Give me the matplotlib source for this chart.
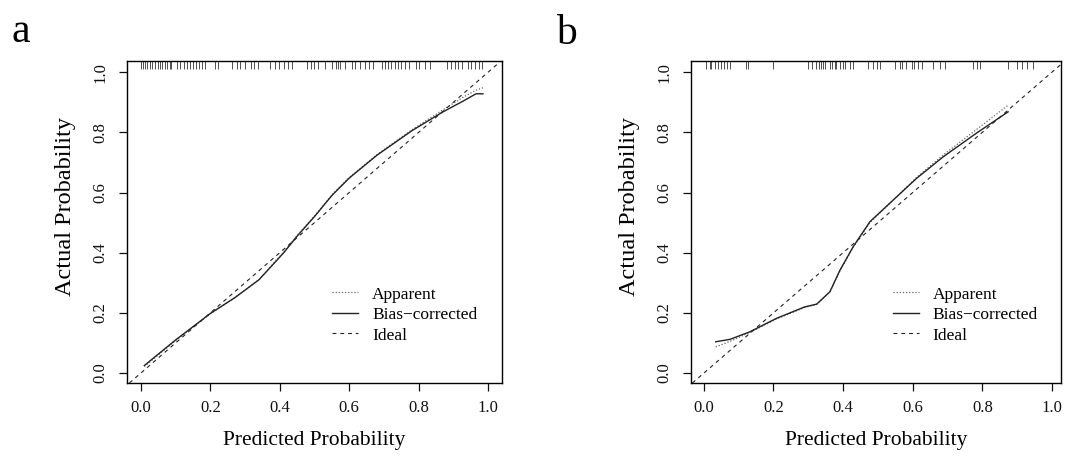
import numpy as np
import matplotlib
matplotlib.use('Agg')
import matplotlib.pyplot as plt

plt.rcParams['font.family'] = ['Liberation Serif', 'DejaVu Serif']

# panel a
a_x = [0.01, 0.10, 0.20, 0.27, 0.34, 0.41, 0.45, 0.50, 0.55, 0.60, 0.68, 0.78, 0.87, 0.93, 0.965, 0.985]
a_bias = [0.025, 0.11, 0.198, 0.25, 0.31, 0.398, 0.455, 0.52, 0.59, 0.648, 0.724, 0.805, 0.868, 0.905, 0.928, 0.928]
a_app = [0.022, 0.108, 0.197, 0.25, 0.31, 0.40, 0.457, 0.522, 0.592, 0.65, 0.726, 0.808, 0.875, 0.918, 0.94, 0.948]
a_rug = [0.0, 0.007, 0.013, 0.019, 0.026, 0.031, 0.040, 0.050, 0.056, 0.062, 0.069, 0.076, 0.084, 0.088,
         0.103, 0.112, 0.124, 0.132, 0.141, 0.151, 0.160, 0.167, 0.175, 0.184, 0.213, 0.223, 0.261,
         0.276, 0.285, 0.300, 0.317, 0.327, 0.338, 0.372, 0.386, 0.398, 0.413, 0.425, 0.434, 0.477,
         0.490, 0.498, 0.510, 0.531, 0.550, 0.562, 0.568, 0.574, 0.589, 0.608, 0.618, 0.632, 0.646,
         0.656, 0.668, 0.695, 0.704, 0.712, 0.721, 0.731, 0.741, 0.750, 0.762, 0.771, 0.791, 0.800,
         0.819, 0.834, 0.882, 0.894, 0.904, 0.914, 0.925, 0.942, 0.952, 0.963, 0.973, 0.981]

# panel b
b_x = [0.034, 0.075, 0.132, 0.209, 0.29, 0.324, 0.362, 0.391, 0.429, 0.477, 0.544, 0.611, 0.688, 0.784, 0.874]
b_bias = [0.104, 0.112, 0.137, 0.182, 0.220, 0.229, 0.270, 0.342, 0.420, 0.503, 0.575, 0.647, 0.719, 0.798, 0.868]
b_app = [0.087, 0.105, 0.135, 0.180, 0.218, 0.228, 0.270, 0.340, 0.418, 0.500, 0.575, 0.650, 0.725, 0.810, 0.890]
b_rug = [0.007, 0.017, 0.021, 0.031, 0.042, 0.050, 0.059, 0.067, 0.074, 0.122, 0.127, 0.198, 0.299,
         0.310, 0.323, 0.330, 0.337, 0.343, 0.349, 0.361, 0.367, 0.376, 0.381, 0.390, 0.400, 0.404,
         0.420, 0.429, 0.471, 0.486, 0.496, 0.506, 0.549, 0.563, 0.568, 0.582, 0.597, 0.604, 0.614,
         0.626, 0.659, 0.678, 0.693, 0.774, 0.784, 0.793, 0.874, 0.899, 0.913, 0.927, 0.946]

ticks = [0.0, 0.2, 0.4, 0.6, 0.8, 1.0]
tick_labels = ['0.0', '0.2', '0.4', '0.6', '0.8', '1.0']
legend_labels = ['Apparent', 'Bias\u2212corrected', 'Ideal']

fig = plt.figure(figsize=(10.67, 4.59), dpi=100)


def panel(rect, x, app, bias, rug, xlim, legend_x):
    ax = fig.add_axes(rect)
    l1, = ax.plot(x, app, color='#666666', lw=0.9, linestyle=(0, (1, 1.5)))
    l2, = ax.plot(x, bias, color='#222222', lw=1.0)
    l3 = ax.axline((0, 0), (1, 1), color='#222222', lw=0.8, dashes=(3.5, 3.5))
    # rug of predictions along the top edge
    ax.vlines(rug, 1.012, 1.037, color='#333333', lw=0.6, clip_on=False)
    ax.set_xlim(*xlim)
    ax.set_ylim(-0.033, 1.037)
    ax.set_xticks(ticks)
    ax.set_xticklabels(tick_labels)
    ax.set_yticks(ticks)
    ax.set_yticklabels(tick_labels, rotation=90, va='center')
    ax.tick_params(direction='out', length=5.5, width=0.9, pad=7, labelsize=12, colors='#111111')
    ax.tick_params(axis='y', pad=8)
    for s in ax.spines.values():
        s.set_linewidth(1.0)
    ax.set_xlabel('Predicted Probability', fontsize=15.5)
    ax.set_ylabel('Actual Probability', fontsize=17.5)
    ax.xaxis.set_label_coords(0.5, -0.18)
    ax.xaxis.label.set_va('center')
    ax.yaxis.set_label_coords(-0.165, 0.547)
    ax.yaxis.label.set_va('center')
    ax.legend([l1, l2, l3], legend_labels, loc='upper left', bbox_to_anchor=(legend_x, 0.30),
              frameon=False, fontsize=12.5, handlelength=1.5, handletextpad=0.8,
              labelspacing=0.25, borderpad=0, borderaxespad=0)
    return ax


panel([0.119, 0.1656, 0.3515, 0.7015], a_x, a_app, a_bias, a_rug, (-0.040, 1.040), 0.547)
panel([0.6476, 0.1656, 0.3468, 0.7015], b_x, b_app, b_bias, b_rug, (-0.037, 1.026), 0.545)

fig.text(0.011, 1 - 42 / 459, 'a', fontsize=30, va='baseline')
fig.text(0.521, 1 - 44 / 459, 'b', fontsize=30, va='baseline')

fig.savefig('out.png', dpi=100)
